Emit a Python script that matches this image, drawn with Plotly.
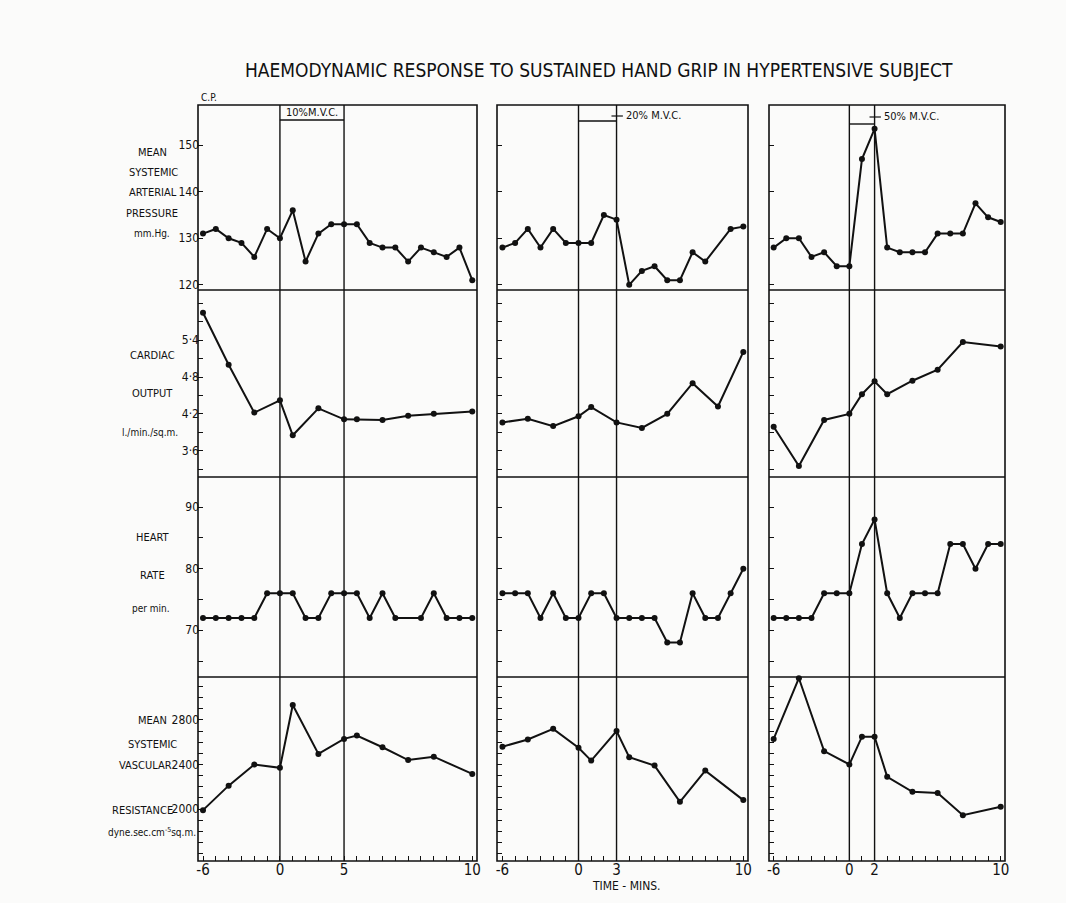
import plotly.graph_objects as go

W, H = 1066, 903
FONT = "DejaVu Sans Condensed, Liberation Sans Narrow, sans-serif"
INK = "#111111"

# ---- time grid (one grid step per minute before/during grip; recovery compressed) ----
grip_label = ["10%M.V.C.", "20% M.V.C.", "50% M.V.C."]
grip_end = [5, 3, 2]            # grid step where the grip stops
grid_last = [15, 13, 12]        # last grid step of each panel
end_label = ["5", "3", "2"]

# ---- 10% M.V.C. ----
map10_t = [-6, -5, -4, -3, -2, -1, 0, 1, 2, 3, 4, 5, 6, 7, 8, 9, 10, 11, 12, 13, 14, 15]
map10 = [131, 132, 130, 129, 126, 132, 130, 136, 125, 131, 133, 133, 133, 129, 128, 128, 125, 128, 127, 126, 128, 121]
co10_t = [-6, -4, -2, 0, 1, 3, 5, 6, 8, 10, 12, 15]
co10 = [5.85, 5.0, 4.22, 4.42, 3.85, 4.29, 4.11, 4.11, 4.10, 4.17, 4.20, 4.24]
hr10_t = [-6, -5, -4, -3, -2, -1, 0, 1, 2, 3, 4, 5, 6, 7, 8, 9, 11, 12, 13, 14, 15]
hr10 = [72, 72, 72, 72, 72, 76, 76, 76, 72, 72, 76, 76, 76, 72, 76, 72, 72, 76, 72, 72, 72]
svr10_t = [-6, -4, -2, 0, 1, 3, 5, 6, 8, 10, 12, 15]
svr10 = [1990, 2210, 2400, 2370, 2935, 2495, 2630, 2660, 2555, 2440, 2470, 2315]

# ---- 20% M.V.C. ----
map20_t = [-6, -5, -4, -3, -2, -1, 0, 1, 2, 3, 4, 5, 6, 7, 8, 9, 10, 12, 13]
map20 = [128, 129, 132, 128, 132, 129, 129, 129, 135, 134, 120, 123, 124, 121, 121, 127, 125, 132, 132.5]
co20_t = [-6, -4, -2, 0, 1, 3, 5, 7, 9, 11, 13]
co20 = [4.06, 4.12, 4.0, 4.16, 4.31, 4.06, 3.97, 4.20, 4.70, 4.32, 5.21]
hr20_t = [-6, -5, -4, -3, -2, -1, 0, 1, 2, 3, 4, 5, 6, 7, 8, 9, 10, 11, 12, 13]
hr20 = [76, 76, 76, 72, 76, 72, 72, 76, 76, 72, 72, 72, 72, 68, 68, 76, 72, 72, 76, 80]
svr20_t = [-6, -4, -2, 0, 1, 3, 4, 6, 8, 10, 13]
svr20 = [2560, 2625, 2720, 2550, 2435, 2700, 2465, 2390, 2065, 2345, 2080]

# ---- 50% M.V.C. ----
map50_t = [-6, -5, -4, -3, -2, -1, 0, 1, 2, 3, 4, 5, 6, 7, 8, 9, 10, 11, 12]
map50 = [128, 130, 130, 126, 127, 124, 124, 147, 153.5, 128, 127, 127, 127, 131, 131, 131, 137.5, 134.5, 133.5]
co50_t = [-6, -4, -2, 0, 1, 2, 3, 5, 7, 9, 12]
co50 = [3.99, 3.35, 4.10, 4.20, 4.52, 4.73, 4.52, 4.74, 4.92, 5.37, 5.30]
hr50_t = [-6, -5, -4, -3, -2, -1, 0, 1, 2, 3, 4, 5, 6, 7, 8, 9, 10, 11, 12]
hr50 = [72, 72, 72, 72, 76, 76, 76, 84, 88, 76, 72, 76, 76, 76, 84, 84, 80, 84, 84]
svr50_t = [-6, -4, -2, 0, 1, 2, 3, 5, 7, 9, 12]
svr50 = [2630, 3175, 2520, 2400, 2650, 2650, 2290, 2155, 2145, 1945, 2020]

series = [
    [(map10_t, map10), (map20_t, map20), (map50_t, map50)],
    [(co10_t, co10), (co20_t, co20), (co50_t, co50)],
    [(hr10_t, hr10), (hr20_t, hr20), (hr50_t, hr50)],
    [(svr10_t, svr10), (svr20_t, svr20), (svr50_t, svr50)],
]

# ---- vertical scales ----
y_ranges = [[118.9, 158.6], [3.17, 6.22], [62.4, 94.9], [1533, 3186]]
y_ticks = [
    [120, 130, 140, 150],
    [3.3, 3.6, 3.9, 4.2, 4.5, 4.8, 5.1, 5.4, 5.7, 6.0],
    [65, 70, 75, 80, 85, 90],
    list(range(1600, 3200, 100)),
]
y_labelled = [
    {120: "120", 130: "130", 140: "140", 150: "150"},
    {3.6: "3·6", 4.2: "4·2", 4.8: "4·8", 5.4: "5·4"},
    {70: "70", 80: "80", 90: "90"},
    {2000: "2000", 2400: "2400", 2800: "2800"},
]
row_titles = [
    ["MEAN", "SYSTEMIC", "ARTERIAL", "PRESSURE", "mm.Hg."],
    ["CARDIAC", "OUTPUT", "l./min./sq.m."],
    ["HEART", "RATE", "per min."],
    ["MEAN", "SYSTEMIC", "VASCULAR", "RESISTANCE", "dyne.sec.cm<sup>-5</sup>sq.m."],
]
row_title_y = [
    [152, 172, 192, 213, 234],
    [355, 393, 432],
    [537, 575, 608],
    [720, 744, 765, 810, 832],
]
row_title_x = [
    [152, 153, 153, 152, 152],
    [152, 152, 150],
    [153, 152, 151],
    [152, 152, 145, 142, 152],
]

# panel placement in pixels
col_px = [(198, 477), (497, 748), (769, 1005)]
row_px = [(105, 290), (290, 477), (477, 677), (677, 861)]
x_ranges = [[-6.39, 15.37], [-6.43, 13.37], [-6.37, 12.34]]


def px(x):
    return x / W


def py(y):
    return 1 - y / H


fig = go.Figure()
layout = {}
shapes = []
annotations = []

for r in range(4):
    for c in range(3):
        k = r * 3 + c + 1
        xa = "x" if k == 1 else f"x{k}"
        ya = "y" if k == 1 else f"y{k}"
        t, v = series[r][c]
        fig.add_trace(go.Scatter(
            x=t, y=v, xaxis=xa, yaxis=ya, mode="lines+markers",
            line=dict(color=INK, width=2),
            marker=dict(color=INK, size=6),
            showlegend=False, hoverinfo="skip", cliponaxis=False,
        ))
        grid = list(range(-6, grid_last[c] + 1))
        labels = []
        for g in grid:
            if g == -6:
                labels.append("-6")
            elif g == 0:
                labels.append("0")
            elif g == grip_end[c]:
                labels.append(end_label[c])
            elif g == grid_last[c]:
                labels.append("10")
            else:
                labels.append("")
        bottom = r == 3
        layout["xaxis" if k == 1 else f"xaxis{k}"] = dict(
            domain=[px(col_px[c][0]), px(col_px[c][1])],
            range=x_ranges[c], anchor=ya, automargin=False, tickangle=0,
            showline=False, showgrid=False, zeroline=False,
            tickmode="array", tickvals=grid if bottom else [],
            ticktext=labels if bottom else [],
            ticks="inside" if bottom else "", ticklen=5, tickcolor=INK, tickwidth=1.2,
            showticklabels=bottom, ticklabelstandoff=-2,
            tickfont=dict(family=FONT, size=15, color=INK),
        )
        layout["yaxis" if k == 1 else f"yaxis{k}"] = dict(
            domain=[py(row_px[r][1]), py(row_px[r][0])],
            range=y_ranges[r], anchor=xa, automargin=False,
            showline=False, showgrid=False, zeroline=False,
            tickmode="array", tickvals=y_ticks[r],
            ticktext=[y_labelled[r].get(v, "") for v in y_ticks[r]],
            ticks="inside", ticklen=5, tickcolor=INK, tickwidth=1.2,
            showticklabels=(c == 0), ticklabelstandoff=-2,
            tickfont=dict(family=FONT, size=12, color=INK),
        )

# panel frames: one box per column, split into the four rows
for c in range(3):
    x0, x1 = px(col_px[c][0]), px(col_px[c][1])
    shapes.append(dict(type="rect", xref="paper", yref="paper", x0=x0, x1=x1,
                       y0=py(row_px[3][1]), y1=py(row_px[0][0]),
                       line=dict(color=INK, width=1.6)))
    for r in range(1, 4):
        shapes.append(dict(type="line", xref="paper", yref="paper", x0=x0, x1=x1,
                           y0=py(row_px[r][0]), y1=py(row_px[r][0]),
                           line=dict(color=INK, width=1.6)))

# grip start/stop lines through every row of a column
for c in range(3):
    xref = "x" if c == 0 else f"x{c + 1}"
    for g in (0, grip_end[c]):
        shapes.append(dict(type="line", xref=xref, yref="paper", x0=g, x1=g,
                           y0=py(861), y1=py(105), line=dict(color=INK, width=1.4)))

# grip intensity marks at the top of each column
shapes.append(dict(type="line", xref="x", yref="paper", x0=0, x1=grip_end[0],
                   y0=py(120), y1=py(120), line=dict(color=INK, width=1.4)))
annotations.append(dict(xref="x", yref="paper", x=grip_end[0] / 2, y=py(112.5),
                        text=grip_label[0], showarrow=False, yanchor="middle",
                        font=dict(family=FONT, size=11, color=INK)))
for c, ybar, ytxt in ((1, 121, 116), (2, 124, 117)):
    xref = f"x{c + 1}"
    shapes.append(dict(type="line", xref=xref, yref="paper", x0=0, x1=grip_end[c],
                       y0=py(ybar), y1=py(ybar), line=dict(color=INK, width=1.4)))
    shapes.append(dict(type="line", xref=xref, yref="paper", x0=grip_end[c] - 0.4,
                       x1=grip_end[c] + 0.5, y0=py(ytxt), y1=py(ytxt),
                       line=dict(color=INK, width=1.2)))
    annotations.append(dict(xref=xref, yref="paper", x=grip_end[c] + 0.55, y=py(ytxt),
                            text=grip_label[c], showarrow=False, xanchor="left",
                            yanchor="middle",
                            font=dict(family=FONT, size=11, color=INK)))

# row titles
for r in range(4):
    for txt, xx, yy in zip(row_titles[r], row_title_x[r], row_title_y[r]):
        small = txt.startswith(("mm", "l.", "per", "dyne"))
        annotations.append(dict(xref="paper", yref="paper", x=px(xx), y=py(yy),
                                text=txt, showarrow=False, xanchor="center",
                                yanchor="middle",
                                font=dict(family=FONT, size=10 if small else 11, color=INK)))

annotations.append(dict(xref="paper", yref="paper", x=px(199), y=py(97), text="C.P.",
                        showarrow=False, yanchor="middle",
                        font=dict(family=FONT, size=10, color=INK)))
annotations.append(dict(xref="paper", yref="paper", x=px(626), y=py(886), text="TIME - MINS.",
                        showarrow=False, yanchor="middle",
                        font=dict(family=FONT, size=12, color=INK)))
annotations.append(dict(xref="paper", yref="paper", x=px(599), y=py(70),
                        text="HAEMODYNAMIC RESPONSE TO SUSTAINED HAND GRIP IN HYPERTENSIVE SUBJECT",
                        showarrow=False, yanchor="middle",
                        font=dict(family=FONT, size=19, color=INK)))

fig.update_layout(
    width=W, height=H, margin=dict(l=0, r=0, t=0, b=0, autoexpand=False),
    paper_bgcolor="#fbfbfa", plot_bgcolor="rgba(0,0,0,0)",
    shapes=shapes, annotations=annotations, **layout,
)

fig.write_html("out.html")
